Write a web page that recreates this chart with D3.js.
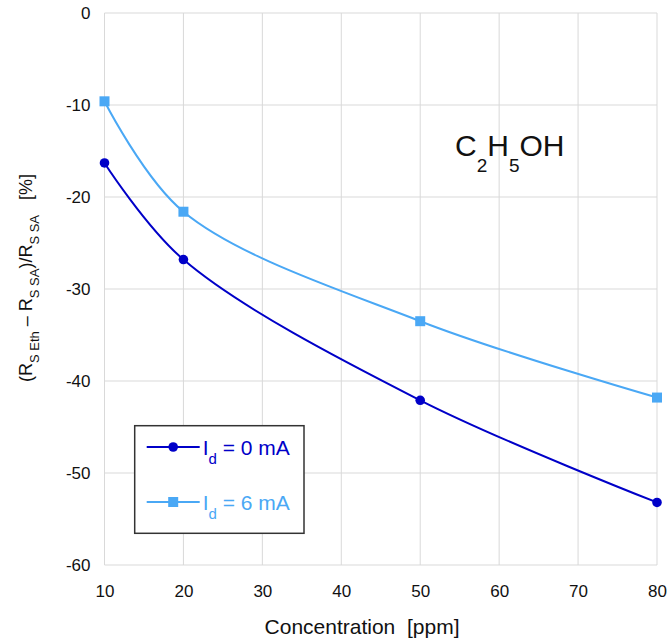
<!DOCTYPE html>
<html>
<head>
<meta charset="utf-8">
<script src="https://cdn.jsdelivr.net/npm/d3@7"></script>
<style>
  body { margin: 0; background: #fff; }
  svg text { font-family: "Liberation Sans", Arial, sans-serif; white-space: pre; }
</style>
</head>
<body>
<div class="chart-holder"></div>
<script>
var concentration = [10, 20, 50, 80];
var id0Values = [-16.3, -26.8, -42.1, -53.2];
var id6Values = [-9.6, -21.6, -33.5, -41.8];
var xTicks = [10, 20, 30, 40, 50, 60, 70, 80];
var yTicks = [0, -10, -20, -30, -40, -50, -60];

var margin = {top: 13, right: 13, bottom: 76, left: 104.5},
    fullW = 670, fullH = 641,
    width = fullW - margin.left - margin.right,
    height = fullH - margin.top - margin.bottom;

var darkBlue = "#0000c8",
    lightBlue = "#4aa8f5";

var x = d3.scaleLinear().domain([10, 80]).range([0, width]);
var y = d3.scaleLinear().domain([-60, 0]).range([height, 0]);

var svg = d3.select(".chart-holder").append("svg")
    .attr("width", fullW)
    .attr("height", fullH)
  .append("g")
    .attr("transform", "translate(" + margin.left + "," + margin.top + ")");

// grid
svg.append("g").selectAll("line")
    .data(xTicks)
  .enter().append("line")
    .attr("x1", d => x(d)).attr("x2", d => x(d))
    .attr("y1", 0).attr("y2", height)
    .style("stroke", "#d9d9d9").style("stroke-width", 1);

svg.append("g").selectAll("line")
    .data(yTicks)
  .enter().append("line")
    .attr("x1", 0).attr("x2", width)
    .attr("y1", d => y(d)).attr("y2", d => y(d))
    .style("stroke", "#d9d9d9").style("stroke-width", 1);

// axes (labels only), plain hyphen for negatives
var xAxis = d3.axisBottom(x).tickValues(xTicks).tickSize(0).tickPadding(20)
    .tickFormat(d => String(d));
var yAxis = d3.axisLeft(y).tickValues(yTicks).tickSize(0).tickPadding(14)
    .tickFormat(d => String(d));

var gx = svg.append("g")
    .attr("transform", "translate(0," + height + ")")
    .call(xAxis);
gx.select(".domain").remove();
gx.selectAll("text").style("font-size", "17px").style("fill", "#111")
    .style("font-family", "Liberation Sans, Arial, sans-serif");

var gy = svg.append("g").call(yAxis);
gy.select(".domain").remove();
gy.selectAll("text").style("font-size", "17px").style("fill", "#111")
    .style("font-family", "Liberation Sans, Arial, sans-serif");

// axis titles
svg.append("text")
    .attr("x", 362 - margin.left)
    .attr("y", 634 - margin.top)
    .style("text-anchor", "middle")
    .style("font-size", "21px")
    .style("fill", "#111")
    .text("Concentration  [ppm]");

var yt = svg.append("text")
    .attr("transform", "translate(" + (32 - margin.left) + "," + (278 - margin.top) + ") rotate(-90)")
    .style("text-anchor", "middle")
    .style("font-size", "18px")
    .style("fill", "#111");
yt.append("tspan").text("(R");
yt.append("tspan").attr("dy", 7).style("font-size", "13px").text("S Eth");
yt.append("tspan").attr("dy", -7).text(" \u2013 R");
yt.append("tspan").attr("dy", 7).style("font-size", "13px").text("S SA");
yt.append("tspan").attr("dy", -7).text(")/R");
yt.append("tspan").attr("dy", 7).style("font-size", "13px").text("S SA");
yt.append("tspan").attr("dy", -7).text("   [%]");

// lines
var series = [
  {name: "0", values: id0Values, color: darkBlue, marker: "circle"},
  {name: "6", values: id6Values, color: lightBlue, marker: "square"}
];

var line = d3.line()
    .x(d => x(d[0]))
    .y(d => y(d[1]))
    .curve(d3.curveCatmullRom.alpha(0.5));

series.forEach(function(s) {
  var pts = concentration.map((c, i) => [c, s.values[i]]);
  svg.append("path")
      .datum(pts)
      .attr("d", line)
      .style("fill", "none")
      .style("stroke", s.color)
      .style("stroke-width", "2px");

  if (s.marker == "circle") {
    svg.selectAll(null).data(pts).enter().append("circle")
        .attr("cx", d => x(d[0])).attr("cy", d => y(d[1]))
        .attr("r", 4.8)
        .style("fill", s.color);
  } else {
    svg.selectAll(null).data(pts).enter().append("rect")
        .attr("x", d => x(d[0]) - 5).attr("y", d => y(d[1]) - 5)
        .attr("width", 10).attr("height", 10)
        .style("fill", s.color);
  }
});

// chemical label
var chem = svg.append("text")
    .attr("x", 455 - margin.left)
    .attr("y", 156 - margin.top)
    .style("font-size", "30px")
    .style("fill", "#111");
chem.append("tspan").text("C");
chem.append("tspan").attr("dy", 16).style("font-size", "19px").text("2");
chem.append("tspan").attr("dy", -16).text("H");
chem.append("tspan").attr("dy", 16).style("font-size", "19px").text("5");
chem.append("tspan").attr("dy", -16).text("OH");

// legend
var legend = svg.append("g")
    .attr("transform", "translate(" + (134.7 - margin.left) + "," + (425.7 - margin.top) + ")");

legend.append("rect")
    .attr("width", 169.3)
    .attr("height", 107.6)
    .style("fill", "#fff")
    .style("stroke", "#333")
    .style("stroke-width", 1.5);

var rows = legend.selectAll(".legend")
    .data(series)
  .enter().append("g")
    .attr("class", "legend")
    .attr("transform", (d, i) => "translate(0," + (21.3 + i * 55) + ")");

rows.append("line")
    .attr("x1", 12).attr("x2", 65)
    .style("stroke", d => d.color)
    .style("stroke-width", 2);

rows.each(function(d) {
  var g = d3.select(this);
  if (d.marker == "circle") {
    g.append("circle").attr("cx", 38.5).attr("cy", 0).attr("r", 4.8).style("fill", d.color);
  } else {
    g.append("rect").attr("x", 33.5).attr("y", -5).attr("width", 10).attr("height", 10).style("fill", d.color);
  }
  var t = g.append("text")
      .attr("x", 68)
      .attr("y", 7.5)
      .style("font-size", "21px")
      .style("fill", d.color);
  t.append("tspan").text("I");
  t.append("tspan").attr("dy", 9).style("font-size", "15px").text("d");
  t.append("tspan").attr("dy", -9).text(" = " + d.name + " mA");
});
</script>
</body>
</html>
